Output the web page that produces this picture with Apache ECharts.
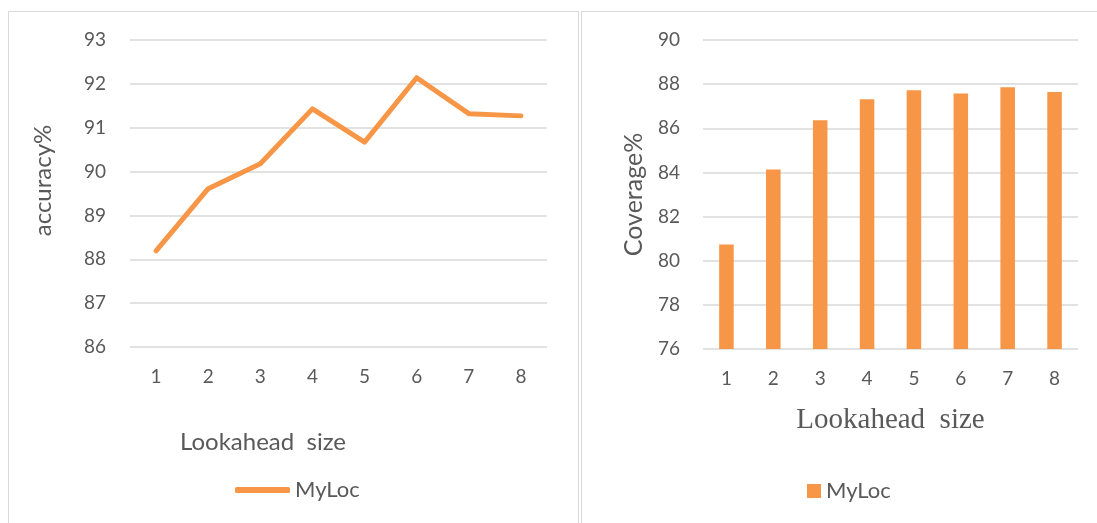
<!DOCTYPE html>
<html>
<head>
<meta charset="utf-8">
<script src="https://cdn.jsdelivr.net/npm/echarts@6/dist/echarts.min.js"></script>
<style>
    html, body { margin: 0; padding: 0; background: #fff; overflow: hidden; }
    body { width: 1097px; height: 523px; position: relative; }
    .panel { position: absolute; border: 1px solid #d9d9d9; box-sizing: border-box; }
    .accuracy { left: 8px; top: 11px; width: 571px; height: 530px; }
    .coverage { left: 581px; top: 11px; width: 540px; height: 530px; }
</style>
</head>
<body>
<div class="panel accuracy"></div>
<div class="panel coverage"></div>
<script>
// 数据
const lookahead = ['1', '2', '3', '4', '5', '6', '7', '8']
const accuracy = [88.19, 89.61, 90.18, 91.43, 90.67, 92.14, 91.32, 91.27]
const coverage = [80.74, 84.13, 86.36, 87.31, 87.72, 87.58, 87.86, 87.64]

const orange = '#f79646'
const grey = '#595959'
const gridColor = '#d9d9d9'
const sans = 'Lato, "Liberation Sans", sans-serif'

// 左: accuracy 折线
function accuracyChart() {
    const el = document.querySelector('.accuracy')
    const myChart = echarts.init(el)
    const option = {
        animation: false,
        title: {
            text: 'Lookahead  size',
            left: 166,
            top: 413,
            textStyle: { fontFamily: sans, fontSize: 24, fontWeight: 'normal', color: grey }
        },
        legend: {
            data: ['MyLoc'],
            left: 221,
            top: 462,
            icon: 'roundRect',
            itemWidth: 55,
            itemHeight: 6,
            textStyle: { fontFamily: sans, fontSize: 22, color: grey }
        },
        grid: { left: 121, top: 28, width: 417, height: 307 },
        xAxis: {
            type: 'category',
            data: lookahead,
            axisLine: { show: false },
            axisTick: { show: false },
            axisLabel: { margin: 20, fontFamily: sans, fontSize: 19, color: grey }
        },
        yAxis: {
            type: 'value',
            min: 86,
            max: 93,
            interval: 1,
            name: 'accuracy%',
            nameLocation: 'middle',
            nameGap: 75,
            nameTextStyle: { fontFamily: sans, fontSize: 24, color: grey, padding: [0, 0, 0, 26] },
            axisLabel: { margin: 24, fontFamily: sans, fontSize: 19, color: grey },
            splitLine: { lineStyle: { color: gridColor, width: 1.5 } }
        },
        series: [
            {
                name: 'MyLoc',
                type: 'line',
                data: accuracy,
                symbol: 'none',
                lineStyle: { color: orange, width: 5, cap: 'round', join: 'round' },
                itemStyle: { color: orange }
            }
        ]
    }
    myChart.setOption(option)
}
accuracyChart()

// 右: coverage 柱状
function coverageChart() {
    const el = document.querySelector('.coverage')
    const myChart = echarts.init(el)
    const option = {
        animation: false,
        legend: {
            data: ['MyLoc'],
            left: 220,
            top: 463,
            icon: 'rect',
            itemWidth: 14,
            itemHeight: 14,
            textStyle: { fontFamily: sans, fontSize: 22, color: grey }
        },
        grid: { left: 121, top: 28, width: 375, height: 309 },
        xAxis: {
            type: 'category',
            data: lookahead,
            name: 'Lookahead  size',
            nameLocation: 'middle',
            nameGap: 57,
            nameTextStyle: { fontFamily: '"Liberation Serif", serif', fontSize: 29, color: grey },
            axisLine: { show: false },
            axisTick: { show: false },
            axisLabel: { margin: 20, fontFamily: sans, fontSize: 19, color: grey }
        },
        yAxis: {
            type: 'value',
            min: 76,
            max: 90,
            interval: 2,
            name: 'Coverage%',
            nameLocation: 'middle',
            nameGap: 57,
            nameTextStyle: { fontFamily: sans, fontSize: 25, color: grey },
            axisLabel: { margin: 23, fontFamily: sans, fontSize: 19, color: grey },
            splitLine: { lineStyle: { color: gridColor, width: 1.5 } }
        },
        series: [
            {
                name: 'MyLoc',
                type: 'bar',
                data: coverage,
                barWidth: '31%',
                itemStyle: { color: orange }
            }
        ]
    }
    myChart.setOption(option)
}
coverageChart()
</script>
</body>
</html>
